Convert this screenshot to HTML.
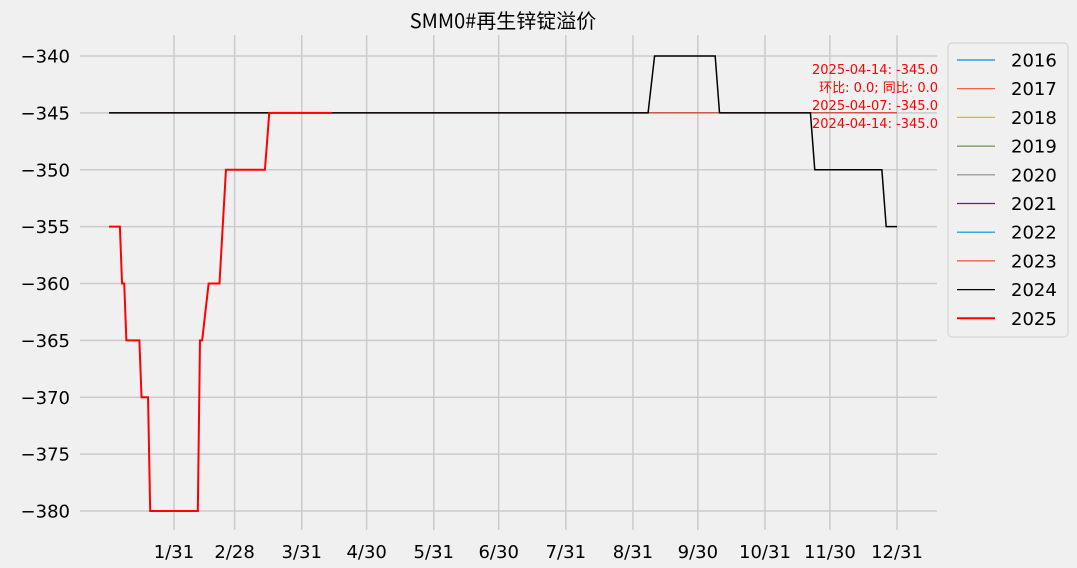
<!DOCTYPE html>
<html><head><meta charset="utf-8"><style>
body{margin:0;background:#f0f0f0;}
svg{display:block;font-family:"DejaVu Sans","Noto Sans CJK SC",sans-serif;}
</style></head><body>
<svg id="chart" width="1077" height="568">
<rect width="1077" height="568" fill="#f0f0f0"/>
<text x="503" y="28" text-anchor="middle" font-size="20" fill="#000" font-family="Noto Sans CJK SC, sans-serif">SMM0#再生锌锭溢价</text>
<g id="grid"></g><g id="series"></g><g id="labels"></g>
<g font-size="13" fill="#ff0000" text-anchor="end">
<text x="938" y="74">2025-04-14: -345.0</text>
<text x="938" y="92">环比: 0.0; 同比: 0.0</text>
<text x="938" y="110">2025-04-07: -345.0</text>
<text x="938" y="128">2024-04-14: -345.0</text>
</g>
<g id="legend"></g>
</svg>
<script>
const xTickLabels=["1/31","2/28","3/31","4/30","5/31","6/30","7/31","8/31","9/30","10/31","11/30","12/31"];
const xTickDays=[31,59,90,120,151,181,212,243,273,304,334,365];
const yTicks=[-340,-345,-350,-355,-360,-365,-370,-375,-380];
const years=["2016","2017","2018","2019","2020","2021","2022","2023","2024","2025"];
const colors=["#008fd5","#fc4f30","#e5ae38","#6d904f","#8b8b8b","#810f7c","#008fd5","#fc4f30","#000000","#ff0000"];
const flatDays=[1,365];
const flatVals=[-345,-345];
const days2024=[1,250,253,281,283,325,327,358,360,365];
const vals2024=[-345,-345,-340,-340,-345,-345,-350,-350,-355,-355];
const days2025=[1,6,7,8,9,15,16,19,20,42,43,44,47,52,55,73,75,104];
const vals2025=[-355,-355,-360,-360,-365,-365,-370,-370,-380,-380,-365,-365,-360,-360,-350,-350,-345,-345];
const X=d=>106.9+d*2.1647;
const Y=v=>56+(-340-v)*11.375;
const NS="http://www.w3.org/2000/svg";
function mk(t,a,p){const e=document.createElementNS(NS,t);for(const k in a)e.setAttribute(k,a[k]);p.appendChild(e);return e;}
const grid=document.getElementById('grid'),lab=document.getElementById('labels'),ser=document.getElementById('series'),leg=document.getElementById('legend');
yTicks.forEach(v=>{
 const l=mk('line',{x1:80,x2:937,y1:Y(v),y2:Y(v),stroke:'#cbcbcb','stroke-width':1.5},grid);
 
 
 const t=mk('text',{x:70,y:Y(v)+6.5,'text-anchor':'end','font-size':18,fill:'#000'},lab);
 t.textContent='\u2212'+Math.abs(v);
 
 
});
xTickDays.forEach((d,i)=>{
 const l=mk('line',{x1:X(d),x2:X(d),y1:35,y2:530,stroke:'#cbcbcb','stroke-width':1.5},grid);
 
 
 const t=mk('text',{x:X(d),y:558,'text-anchor':'middle','font-size':18,fill:'#000'},lab);
 t.textContent=xTickLabels[i];
 
 
});
function line(ds,vs,c,w,name){
 const p=mk('polyline',{points:ds.map((d,i)=>X(d)+','+Y(vs[i])).join(' '),fill:'none',stroke:c,'stroke-width':w},ser);
 
 
}
for(let i=0;i<8;i++) line(flatDays,flatVals,colors[i],1.2,'line-'+years[i]);
line(days2024,vals2024,colors[8],1.5,'line-2024');
line(days2025,vals2025,colors[9],2,'line-2025');
const lb=mk('rect',{x:948,y:43,width:120,height:294,rx:4,fill:'#f0f0f0',stroke:'#d0d0d0'},leg);


years.forEach((y,i)=>{
 const yy=60+i*28.7;
 const g=mk('g',{},leg);
 
 
 mk('line',{x1:957,x2:995,y1:yy,y2:yy,stroke:colors[i],'stroke-width':i==9?2:1.2},g);
 const t=mk('text',{x:1011,y:yy+6.5,'font-size':18,fill:'#000'},g);
 t.textContent=y;
});
</script>
</body></html>
